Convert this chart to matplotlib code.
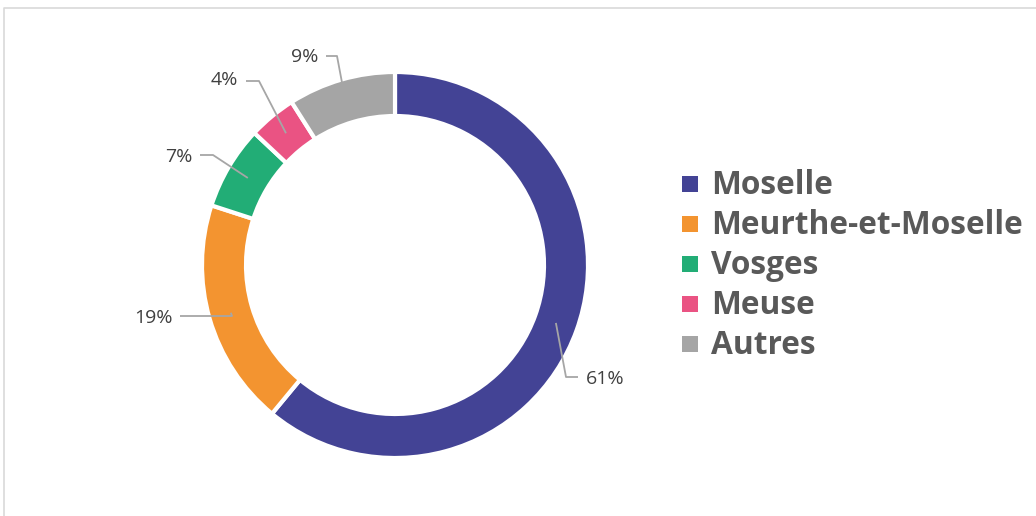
import numpy as np
import matplotlib
matplotlib.use("Agg")
import matplotlib.pyplot as plt
from matplotlib.lines import Line2D

# ---- data ----
categories = ["Moselle", "Meurthe-et-Moselle", "Vosges", "Meuse", "Autres"]
values = [61, 19, 7, 4, 9]
colors = ["#434395", "#F39430", "#22AD76", "#EA5383", "#A5A5A5"]

W, H = 1036, 516
fig = plt.figure(figsize=(W / 100, H / 100), dpi=100)
ax = fig.add_axes([0, 0, 1, 1])

def py(y):  # pixel-from-top to axes y
    return H - y

cx, cy, R, width = 395, py(265), 193, 44
wedges, _ = ax.pie(values, colors=colors, startangle=90, counterclock=False,
                   radius=R, center=(cx, cy),
                   wedgeprops=dict(width=width, edgecolor="white", linewidth=3))
ax.set_xlim(0, W)
ax.set_ylim(0, H)
ax.set_aspect("equal")
ax.axis("off")

# frame lines
ax.add_line(Line2D([4, 4, W], [0, py(8), py(8)], color="#D9D9D9", lw=1.2))

# labels with leader lines: (anchor radius, elbow-end xy, elbow-start xy, text xy, ha)
layout = [
    (171, (566, 377), (578, 377), (586, 379), "left"),
    (171, (232, 316), (180, 316), (173, 318), "right"),
    (171, (213, 155), (200, 155), (193, 157), "right"),
    (171, (259, 81), (246, 81), (238, 80), "right"),
    (190, (337, 56), (326, 56), (318, 57), "right"),
]
total = sum(values)
start = 90.0
for v, (ra, p1, p2, pt, ha) in zip(values, layout):
    ang = np.deg2rad(start - v / total * 360 / 2)
    start -= v / total * 360
    ax0 = cx + ra * np.cos(ang)
    ay0 = cy + ra * np.sin(ang)
    ax.plot([ax0, p1[0], p2[0]], [ay0, py(p1[1]), py(p2[1])],
            color="#A6A6A6", lw=1.3, solid_capstyle="butt")
    ax.text(pt[0], py(pt[1]), f"{v}%", ha=ha, va="center",
            fontsize=14, color="#404040", family="Open Sans")

# legend
lx, ly0, dy = 682, 184, 40
for i, (c, lab) in enumerate(zip(colors, categories)):
    y = ly0 + i * dy
    ax.add_patch(plt.Rectangle((lx, py(y) - 8), 16, 16, color=c, lw=0))
    ax.text(711, py(y) - 1, lab, ha="left", va="center", fontsize=22.8,
            fontweight="bold", color="#595959", family="Open Sans")

fig.savefig("out.png", dpi=100, facecolor="white")
